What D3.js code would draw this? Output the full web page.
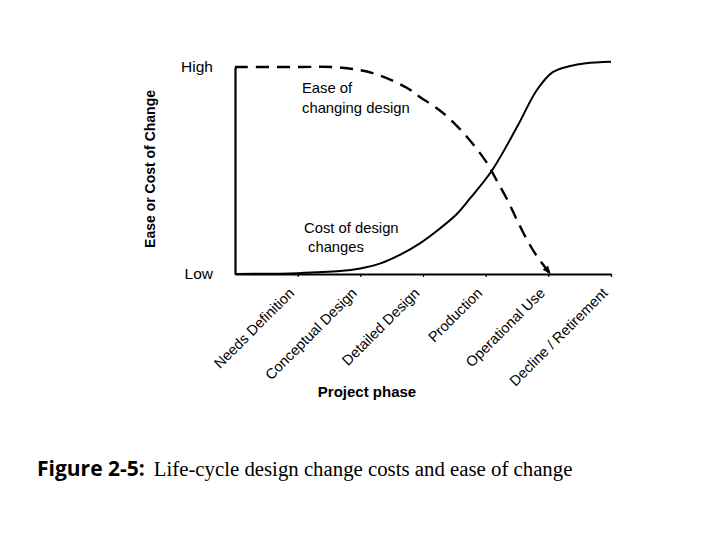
<!DOCTYPE html>
<html>
<head>
<meta charset="utf-8">
<script src="https://cdn.jsdelivr.net/npm/d3@7"></script>
<style>
  body { margin: 0; background: #fff; }
  svg { display: block; }
</style>
</head>
<body>
<div id="container"></div>
<script>
// project phases along the x axis (tick at 1..6, origin at 0)
let phases = ["Needs Definition", "Conceptual Design", "Detailed Design",
              "Production", "Operational Use", "Decline / Retirement"];
let levelTicks = [0, 1];
let levelLabels = ["Low", "High"];

// ease of changing design (dashed)
let easeX = [0, 1, 1.67, 2.2, 2.74, 2.95, 3.27, 3.59, 3.99, 4.18, 4.36, 4.5, 4.66, 4.82, 5.02];
let easeY = [1, 1, 0.998, 0.97, 0.9, 0.855, 0.79, 0.7, 0.55, 0.45, 0.35, 0.26, 0.165, 0.085, 0.005];

// cost of design changes (solid)
let costX = [0, 1, 1.675, 2.0, 2.31, 2.63, 2.95, 3.27, 3.54, 3.75, 4.1, 4.5, 4.82, 5.07, 5.35, 5.6, 6];
let costY = [0, 0.004, 0.014, 0.027, 0.05, 0.092, 0.148, 0.22, 0.29, 0.365, 0.5, 0.71, 0.89, 0.975, 1.005, 1.018, 1.025];

let w = 720;
let h = 540;

let svg = d3.select("#container")
  .append("svg")
    .attr("width", w)
    .attr("height", h)
    .style("font-family", "'Liberation Sans', Arial, sans-serif");

let x = d3.scaleLinear().domain([0, 6]).range([235, 611]);
let y = d3.scaleLinear().domain([0, 1]).range([274, 67]);

// x axis
let xAxis = svg.append("g")
  .attr("transform", "translate(0," + y(0) + ")")
  .call(d3.axisBottom(x)
    .tickValues(d3.range(1, phases.length + 1))
    .tickFormat((d) => phases[d - 1])
    .tickSize(3)
    .tickSizeOuter(0));

xAxis.select(".domain").attr("stroke-width", 2.2);
xAxis.selectAll(".tick line").attr("stroke-width", 1.2);
xAxis.selectAll(".tick text")
  .attr("font-size", 14.5)
  .attr("font-family", "'Liberation Sans', Arial, sans-serif")
  .attr("fill", "#000")
  .attr("text-anchor", "end")
  .attr("dy", 0)
  .attr("transform", "translate(-3,20) rotate(-45)")
  .attr("y", 0);

// y axis
let yAxis = svg.append("g")
  .attr("transform", "translate(" + x(0) + ",0)")
  .call(d3.axisLeft(y)
    .tickValues(levelTicks)
    .tickFormat((d, i) => levelLabels[i])
    .tickSize(0)
    .tickSizeOuter(0)
    .tickPadding(22));

yAxis.select(".domain").attr("stroke-width", 2.2);
yAxis.selectAll(".tick text")
  .attr("font-size", 15.5)
  .attr("font-family", "'Liberation Sans', Arial, sans-serif")
  .attr("fill", "#000");

// arrow marker for the ease curve
svg.append("defs").append("marker")
  .attr("id", "arrow")
  .attr("viewBox", "0 0 10 10")
  .attr("refX", 8)
  .attr("refY", 5)
  .attr("markerWidth", 3.5)
  .attr("markerHeight", 3.5)
  .attr("orient", "auto")
  .append("path")
    .attr("d", "M0,1 L10,5 L0,9 Z")
    .attr("fill", "#000");

let line = d3.line()
  .x((d) => x(d[0]))
  .y((d) => y(d[1]))
  .curve(d3.curveCatmullRom.alpha(0.5));

svg.append("path")
  .datum(d3.zip(costX, costY))
  .attr("d", line)
  .attr("fill", "none")
  .attr("stroke", "#000")
  .attr("stroke-width", 2);

svg.append("path")
  .datum(d3.zip(easeX, easeY))
  .attr("d", line)
  .attr("fill", "none")
  .attr("stroke", "#000")
  .attr("stroke-width", 2.4)
  .attr("stroke-dasharray", "13,8")
  .attr("marker-end", "url(#arrow)");

// curve labels
let notes = [
  ["Ease of", 302, 93],
  ["changing design", 302, 113],
  ["Cost of design", 304, 233],
  ["changes", 308, 252]
];
svg.selectAll(".note")
  .data(notes)
  .enter()
  .append("text")
    .attr("class", "note")
    .attr("x", (d) => d[1])
    .attr("y", (d) => d[2])
    .attr("font-size", 14.8)
    .text((d) => d[0]);

// axis titles
svg.append("text")
  .attr("transform", "translate(155,169) rotate(-90)")
  .attr("text-anchor", "middle")
  .attr("font-size", 14)
  .attr("font-weight", "bold")
  .text("Ease or Cost of Change");

svg.append("text")
  .attr("x", 367)
  .attr("y", 397)
  .attr("text-anchor", "middle")
  .attr("font-size", 15)
  .attr("font-weight", "bold")
  .text("Project phase");

// caption
let cap = svg.append("text")
  .attr("x", 37)
  .attr("y", 476);
cap.append("tspan")
  .attr("font-family", "'Open Sans', sans-serif")
  .attr("font-weight", "bold")
  .attr("font-size", 21)
  .text("Figure 2-5:");
cap.append("tspan")
  .attr("dx", 9)
  .attr("font-family", "'Liberation Serif', 'Times New Roman', serif")
  .attr("font-size", 20.8)
  .text("Life-cycle design change costs and ease of change");
</script>
</body>
</html>
